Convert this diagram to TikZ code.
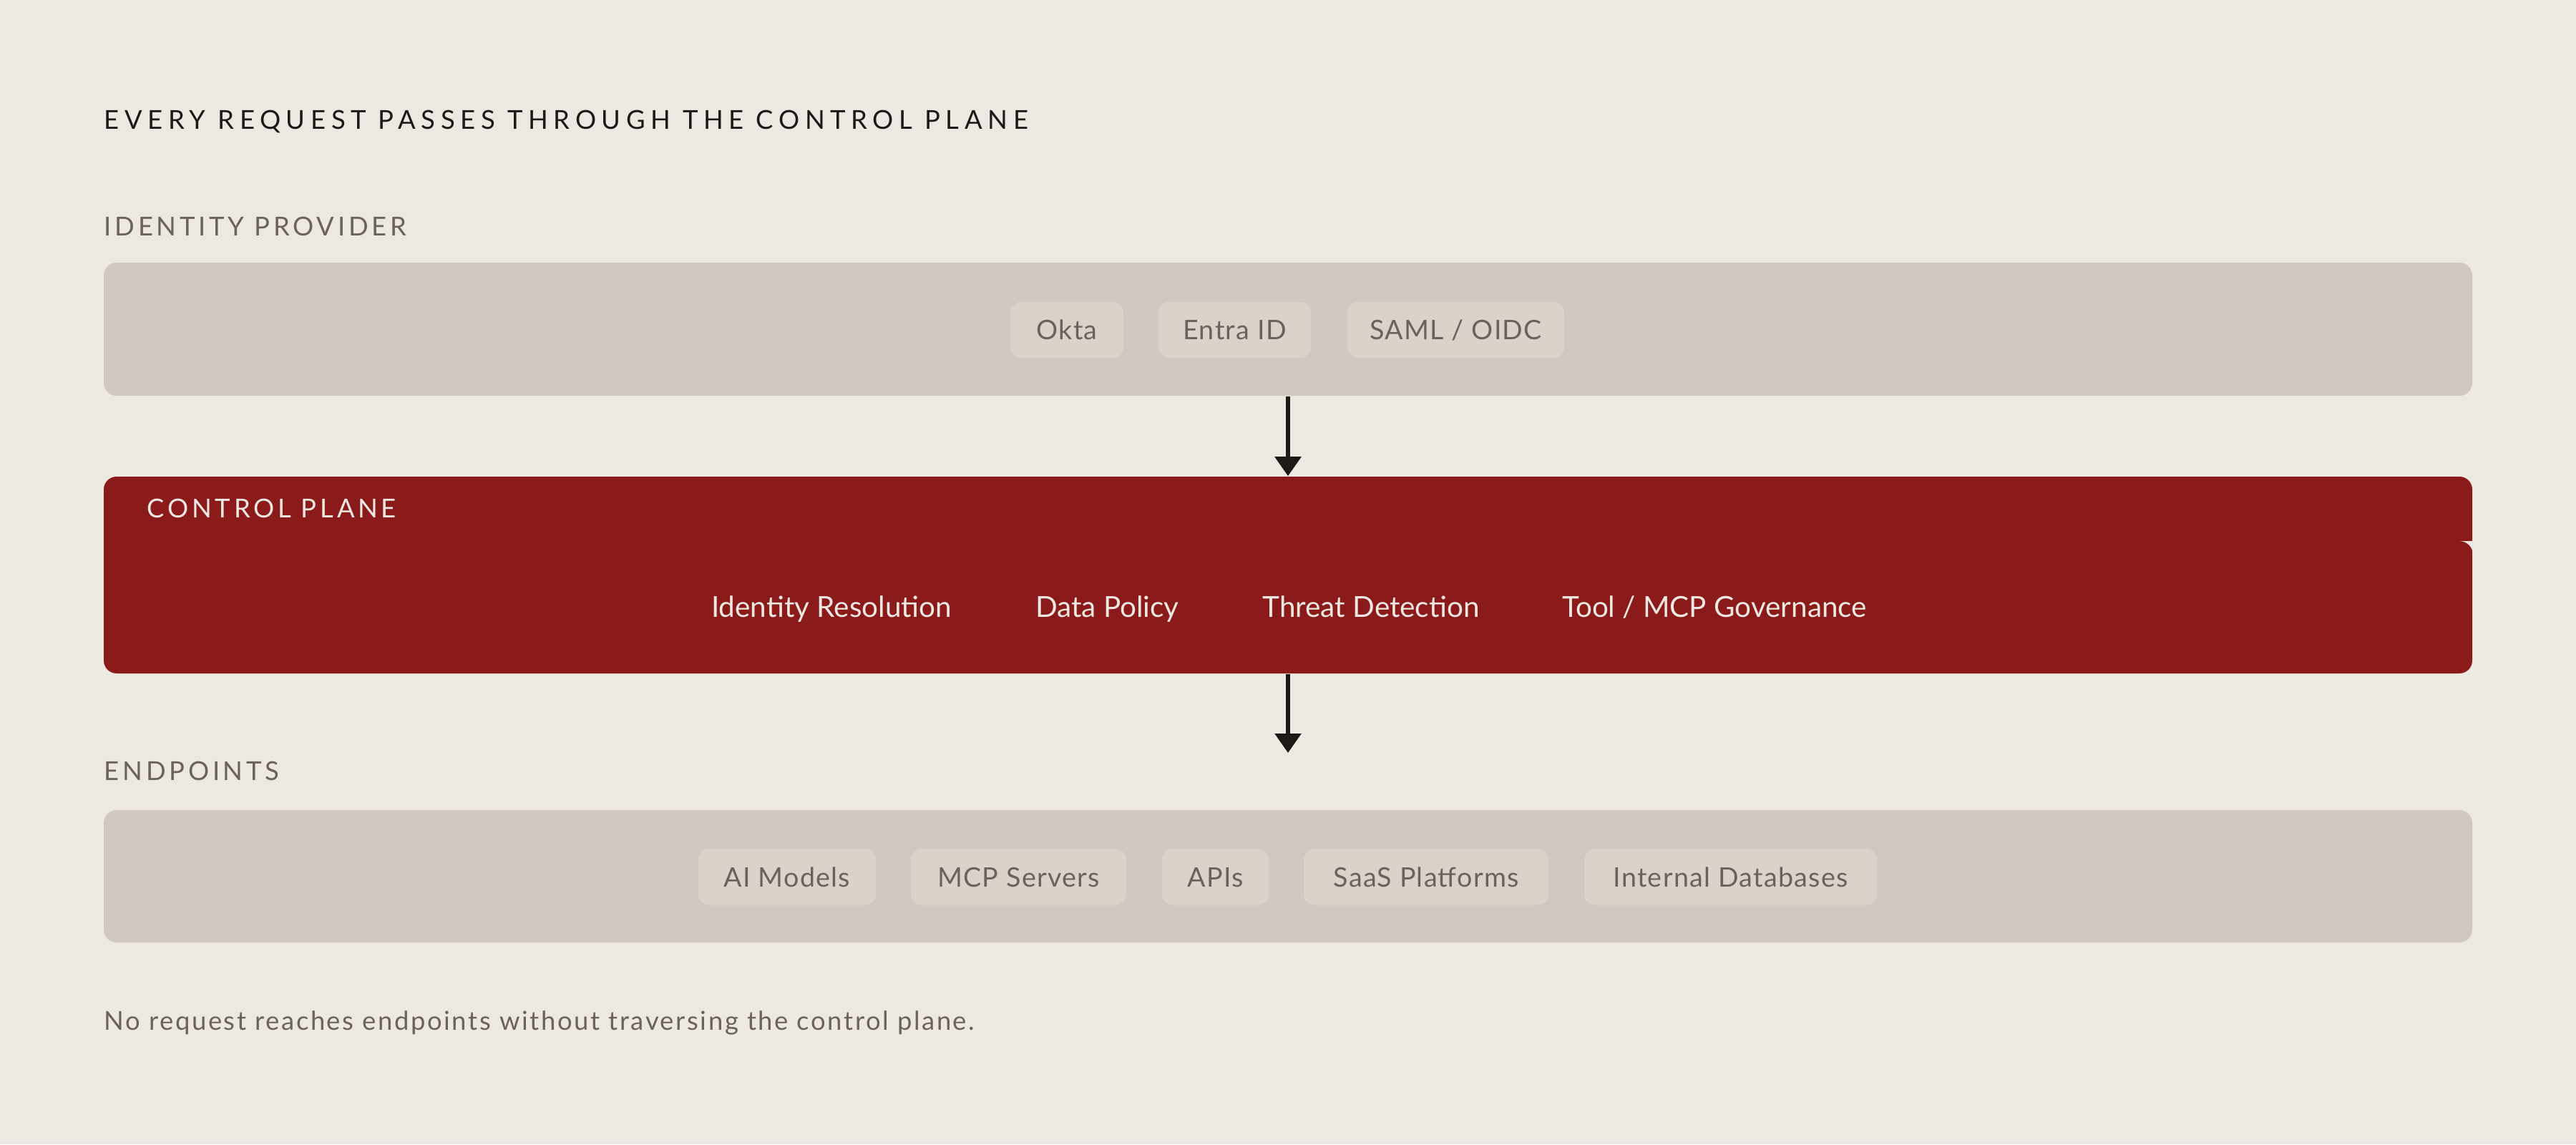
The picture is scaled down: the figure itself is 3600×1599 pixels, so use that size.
\documentclass[tikz,border=0pt]{standalone}
\usepackage{fontspec}
\setmainfont{Lato}
\newfontfamily\titlefont[LetterSpace=21]{Lato}
\newfontfamily\labelfont[LetterSpace=13]{Lato}
\newfontfamily\chipfont[LetterSpace=3.5]{Lato}
\newfontfamily\notefont[LetterSpace=7.2]{Lato}
\usetikzlibrary{arrows.meta}
\definecolor{bgcol}{HTML}{EDE8E1}
\definecolor{panelgray}{HTML}{D1C8C1}
\definecolor{chipgray}{HTML}{DBD3CA}
\definecolor{chiptext}{HTML}{6B635B}
\definecolor{cpred}{HTML}{8B1A1A}
\definecolor{cream}{HTML}{EDE8E1}
\definecolor{ink}{HTML}{1C1917}
\tikzset{
  panel/.style={fill=panelgray,rounded corners=4.5pt,minimum width=827.5pt,minimum height=46.5pt,inner sep=0pt},
  chip/.style={fill=chipgray,rounded corners=3.75pt,minimum height=19.5pt,inner sep=0pt,
    text height=6.75pt,text depth=0pt,text=chiptext,font=\chipfont\fontsize{9.4pt}{11pt}\selectfont},
  capab/.style={inner sep=0pt,text height=7.25pt,text depth=0pt,text=cream,font=\fontsize{10.1pt}{12pt}\selectfont},
  seclabel/.style={inner sep=0pt,anchor=base west,text=chiptext,font=\labelfont\fontsize{9.1pt}{11pt}\selectfont},
  flow/.style={draw=ink,line width=1.5pt,-{Triangle[width=9pt,length=6.75pt]}}
}
\begin{document}
\begin{tikzpicture}[x=0.25pt,y=-0.25pt]
  %% background
  \fill[bgcol] (0,0) rectangle (3600,1599);
  %% title
  \node[inner sep=0pt,anchor=base west,text=ink,font=\titlefont\fontsize{9.1pt}{11pt}\selectfont] (title) at (145,180) {EVERY REQUEST PASSES THROUGH THE CONTROL PLANE};
  %% identity provider
  \node[seclabel] (idplabel) at (145,329) {IDENTITY PROVIDER};
  \node[panel] (idp) at (1800,460) {};
  \node[chip,minimum width=39.5pt] (okta) at (1491,461) {Okta};
  \node[chip,minimum width=53.25pt] (entra) at (1725.5,461) {Entra ID};
  \node[chip,minimum width=75.75pt] (saml) at (2034.5,461) {SAML / OIDC};
  %% control plane
  \node[panel,fill=cpred,minimum height=68.75pt] (cp) at (1800,803.5) {};
  \fill[bgcol] (3456,756) -- (3437,756) .. controls (3447.5,756) and (3456,764.5) .. (3456,775) -- cycle;
  \node[seclabel,text=cream] (cplabel) at (205,723) {CONTROL PLANE};
  \node[capab] (idres) at (1162,847.5) {Identity Resolution};
  \node[capab] (datapol) at (1547.5,847.5) {Data Policy};
  \node[capab] (threat) at (1916,847.5) {Threat Detection};
  \node[capab] (toolgov) at (2396,847.5) {Tool / MCP Governance};
  %% endpoints
  \node[seclabel] (eplabel) at (145,1090) {ENDPOINTS};
  \node[panel,minimum height=46.25pt] (ep) at (1800,1224.5) {};
  \node[chip,minimum width=62pt] (aimodels) at (1100,1225.5) {AI Models};
  \node[chip,minimum width=75.25pt] (mcpsrv) at (1423.5,1225.5) {MCP Servers};
  \node[chip,minimum width=37.25pt] (apis) at (1698.5,1225.5) {APIs};
  \node[chip,minimum width=85.5pt] (saas) at (1993,1225.5) {SaaS Platforms};
  \node[chip,minimum width=102.25pt] (intdb) at (2418.5,1225.5) {Internal Databases};
  %% arrows
  \coordinate (epin) at (1800,1052);
  \draw[flow] (idp.south) -- (cp.north);
  \draw[flow] (cp.south) -- (epin);
  %% footer
  \node[inner sep=0pt,anchor=base west,text=chiptext,font=\notefont\fontsize{9.1pt}{11pt}\selectfont] (footer) at (145,1439) {No request reaches endpoints without traversing the control plane.};
\end{tikzpicture}
\end{document}
